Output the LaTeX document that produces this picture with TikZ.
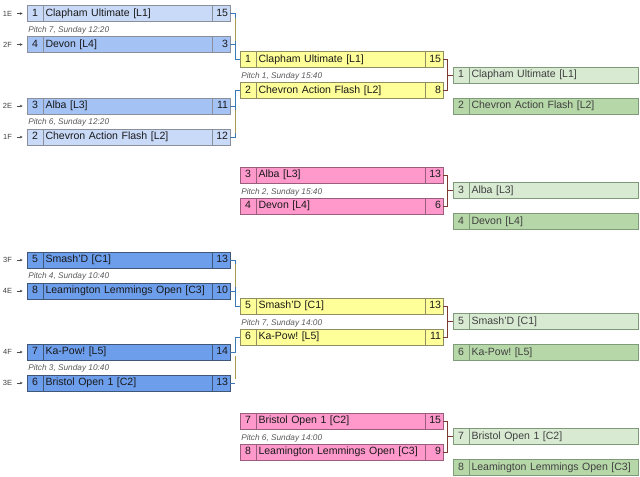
\documentclass[tikz,border=0pt]{standalone}
\usepackage{fontspec}
\setmainfont{Liberation Sans}
\usepackage{xcolor}
\usepackage{tikz}
\usetikzlibrary{positioning, arrows.meta}
\frenchspacing
\definecolor{paleblue}{HTML}{C9DAF8}
\definecolor{midblue}{HTML}{A4C2F4}
\definecolor{deepblue}{HTML}{6D9EEB}
\definecolor{lightyellow}{HTML}{FFFF99}
\definecolor{lightpink}{HTML}{FF99CC}
\definecolor{palegreen}{HTML}{D9EAD3}
\definecolor{midgreen}{HTML}{B6D7A8}
\definecolor{edgegrey}{HTML}{8A8F99}
\definecolor{edgeblue}{HTML}{3F5878}
\definecolor{edgeolive}{HTML}{8E8E62}
\definecolor{edgepink}{HTML}{9A5E7C}
\definecolor{edgegreen}{HTML}{7E9A78}
\definecolor{linkblue}{HTML}{3C78B4}
\definecolor{linkolive}{HTML}{A89A50}
\definecolor{linkbrown}{HTML}{7B3A30}

\tikzset{
  cell/.style={draw, line width=0.6pt, outer sep=0pt, minimum height=12pt, inner ysep=0pt,
    text height=5.9pt, text depth=1.7pt, text=black!90, font=\fontsize{7.9}{9}\selectfont\frenchspacing},
  seedcell/.style={cell, minimum width=12pt, inner xsep=0pt},
  namecell/.style={cell, text width=123pt, inner xsep=1.875pt, align=left},
  scorecell/.style={cell, text width=10.5pt, inner xsep=1.5pt, align=right},
  r1light/.style={fill=paleblue, draw=edgegrey},
  r1mid/.style={fill=midblue, draw=edgegrey},
  r1dark/.style={fill=deepblue, draw=edgeblue},
  r2win/.style={fill=lightyellow, draw=edgeolive},
  r2lose/.style={fill=lightpink, draw=edgepink},
  r3win/.style={fill=palegreen, draw=edgegreen, text=black!75},
  r3lose/.style={fill=midgreen, draw=edgegreen, text=black!75},
  pitch/.style={anchor=west, inner sep=0pt, text=black!65, font=\fontsize{6.2}{7}\selectfont\itshape},
  srclabel/.style={inner sep=0pt, text=black!75, font=\fontsize{5.6}{6}\selectfont},
  srcarrow/.style={-{Stealth[length=2.2pt,width=2pt]}, line width=0.4pt, draw=black!70,
    shorten <=3.3pt, shorten >=3.2pt},
  linkline/.style={line width=0.6pt, draw=linkblue},
  midline/.style={line width=0.6pt, draw=linkolive, shorten <=3pt, shorten >=3pt},
  finalline/.style={line width=0.6pt, draw=linkbrown}
}

% one entry: name, seed-cell centre, look, seed, team, score
\newcommand{\teamrow}[6]{%
  \node[seedcell, #3] (#1s) at (#2) {#4};
  \node[namecell, #3, right=0pt of #1s] (#1) {#5};
  \node[scorecell, #3, right=0pt of #1] (#1r) {#6};}
\newcommand{\placerow}[5]{%
  \node[seedcell, #3] (#1s) at (#2) {#4};
  \node[namecell, #3, right=0pt of #1s] (#1) {#5};}

\begin{document}
\begin{tikzpicture}[x=0.75pt, y=-0.75pt]
  \useasboundingbox (0,0) rectangle (640,476);

  % first round
  \teamrow{c1}{35,13.5}{r1light}{1}{Clapham Ultimate [L1]}{15}
  \teamrow{c2}{35,44.5}{r1mid}{4}{Devon [L4]}{3}
  \teamrow{c3}{35,106}{r1mid}{3}{Alba [L3]}{11}
  \teamrow{c4}{35,137}{r1light}{2}{Chevron Action Flash [L2]}{12}
  \teamrow{c5}{35,260}{r1dark}{5}{Smash'D [C1]}{13}
  \teamrow{c6}{35,291}{r1dark}{8}{Leamington Lemmings Open [C3]}{10}
  \teamrow{c7}{35,352}{r1dark}{7}{Ka-Pow! [L5]}{14}
  \teamrow{c8}{35,383}{r1dark}{6}{Bristol Open 1 [C2]}{13}

  \node[pitch] (p1) at (28,30.5) {Pitch 7, Sunday 12:20};
  \node[pitch] (p2) at (28,122.5) {Pitch 6, Sunday 12:20};
  \node[pitch] (p3) at (28,276.5) {Pitch 4, Sunday 10:40};
  \node[pitch] (p4) at (28,368.5) {Pitch 3, Sunday 10:40};

  \node[srclabel] (l1) at (7.5,13.5) {1E};
  \node[srclabel] (l2) at (7.5,44.5) {2F};
  \node[srclabel] (l3) at (7.5,106) {2E};
  \node[srclabel] (l4) at (7.5,137) {1F};
  \node[srclabel] (l5) at (7.5,260) {3F};
  \node[srclabel] (l6) at (7.5,291) {4E};
  \node[srclabel] (l7) at (7.5,352) {4F};
  \node[srclabel] (l8) at (7.5,383) {3E};
  \draw[srcarrow] (l1) -- (c1s);
  \draw[srcarrow] (l2) -- (c2s);
  \draw[srcarrow] (l3) -- (c3s);
  \draw[srcarrow] (l4) -- (c4s);
  \draw[srcarrow] (l5) -- (c5s);
  \draw[srcarrow] (l6) -- (c6s);
  \draw[srcarrow] (l7) -- (c7s);
  \draw[srcarrow] (l8) -- (c8s);

  % second round
  \teamrow{m1}{248,59.5}{r2win}{1}{Clapham Ultimate [L1]}{15}
  \teamrow{m2}{248,90.5}{r2win}{2}{Chevron Action Flash [L2]}{8}
  \teamrow{m3}{248,175}{r2lose}{3}{Alba [L3]}{13}
  \teamrow{m4}{248,206}{r2lose}{4}{Devon [L4]}{6}
  \teamrow{m5}{248,306}{r2win}{5}{Smash'D [C1]}{13}
  \teamrow{m6}{248,337}{r2win}{6}{Ka-Pow! [L5]}{11}
  \teamrow{m7}{248,421}{r2lose}{7}{Bristol Open 1 [C2]}{15}
  \teamrow{m8}{248,452}{r2lose}{8}{Leamington Lemmings Open [C3]}{9}

  \node[pitch] (p5) at (241,76.5) {Pitch 1, Sunday 15:40};
  \node[pitch] (p6) at (241,192) {Pitch 2, Sunday 15:40};
  \node[pitch] (p7) at (241,323) {Pitch 7, Sunday 14:00};
  \node[pitch] (p8) at (241,438) {Pitch 6, Sunday 14:00};

  % final places
  \placerow{f1}{461,75}{r3win}{1}{Clapham Ultimate [L1]}
  \placerow{f2}{461,106}{r3lose}{2}{Chevron Action Flash [L2]}
  \placerow{f3}{461,190.5}{r3win}{3}{Alba [L3]}
  \placerow{f4}{461,221.5}{r3lose}{4}{Devon [L4]}
  \placerow{f5}{461,321.5}{r3win}{5}{Smash'D [C1]}
  \placerow{f6}{461,352.5}{r3lose}{6}{Ka-Pow! [L5]}
  \placerow{f7}{461,436.5}{r3win}{7}{Bristol Open 1 [C2]}
  \placerow{f8}{461,467.5}{r3lose}{8}{Leamington Lemmings Open [C3]}

  % brackets, first round to second round
  \coordinate[right=3.75pt of c1r] (j1);
  \coordinate[right=3.75pt of c4r] (j2);
  \coordinate[right=3.75pt of c5r] (j3);
  \coordinate[right=3.75pt of c7r] (j4);
  \draw[linkline] (c1r) -- (j1) |- (m1s);
  \draw[linkline] (c2r) -- (c2r -| j1);
  \draw[midline] (j1) -- (c2r -| j1);
  \draw[linkline] (c4r) -- (j2) |- (m2s);
  \draw[linkline] (c3r) -- (c3r -| j2);
  \draw[midline] (j2) -- (c3r -| j2);
  \draw[linkline] (c5r) -- (j3) |- (m5s);
  \draw[linkline] (c6r) -- (c6r -| j3);
  \draw[midline] (j3) -- (c6r -| j3);
  \draw[linkline] (c7r) -- (j4) |- (m6s);
  \draw[linkline] (c8r) -- (c8r -| j4);
  \draw[midline] (j4) -- (c8r -| j4);

  % brackets, second round to places
  \coordinate[right=3pt of m1r] (k1);
  \coordinate[right=3pt of m3r] (k2);
  \coordinate[right=3pt of m5r] (k3);
  \coordinate[right=3pt of m7r] (k4);
  \draw[finalline] (m1r) -- (k1) |- (m2r);
  \draw[finalline] (k1 |- f1s) -- (f1s);
  \draw[finalline] (m3r) -- (k2) |- (m4r);
  \draw[finalline] (k2 |- f3s) -- (f3s);
  \draw[finalline] (m5r) -- (k3) |- (m6r);
  \draw[finalline] (k3 |- f5s) -- (f5s);
  \draw[finalline] (m7r) -- (k4) |- (m8r);
  \draw[finalline] (k4 |- f7s) -- (f7s);
\end{tikzpicture}
\end{document}
